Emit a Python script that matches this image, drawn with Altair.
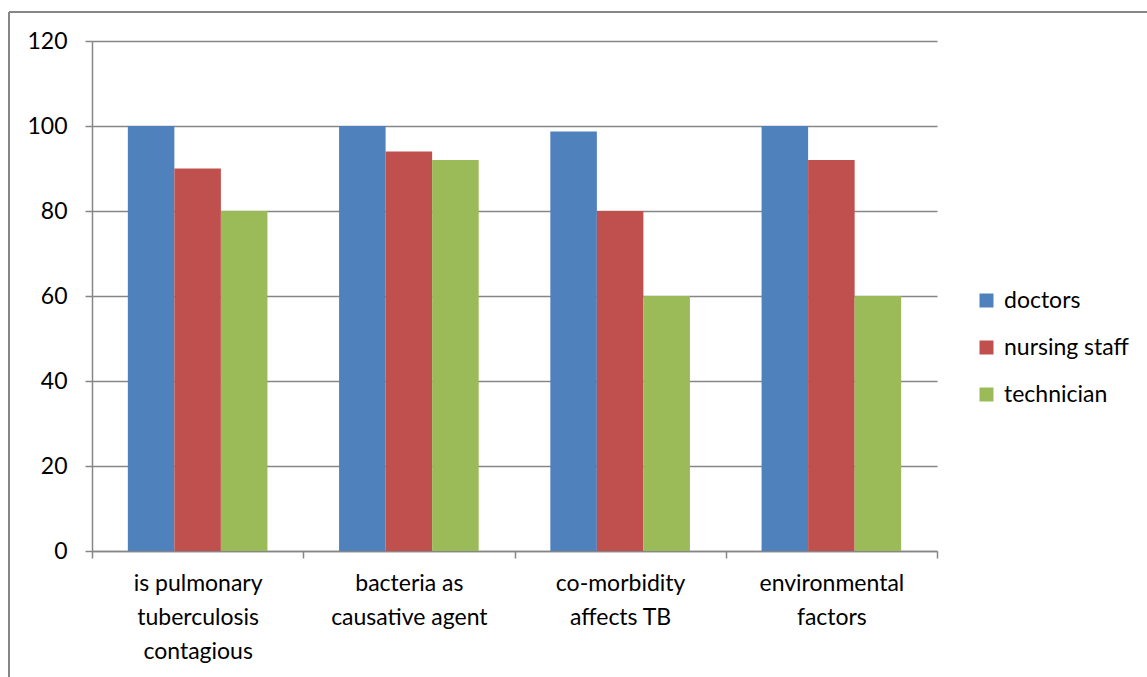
import altair as alt
import pandas as pd
import json

# Survey questions (x categories) and how each label wraps
questions = [
    "is pulmonary tuberculosis contagious",
    "bacteria as causative agent",
    "co-morbidity affects TB",
    "environmental factors",
]
question_lines = [
    ["is pulmonary", "tuberculosis", "contagious"],
    ["bacteria as", "causative agent"],
    ["co-morbidity", "affects TB"],
    ["environmental", "factors"],
]

# Respondent groups and their percentages per question
groups = ["doctors", "nursing staff", "technician"]
doctors = [100, 100, 98.7, 100]
nursing_staff = [90, 94, 80, 92]
technician = [80, 92, 60, 60]

colors = ["#4F81BD", "#C0504D", "#9BBB59"]
y_ticks = [0, 20, 40, 60, 80, 100, 120]

rows = []
for g, vals in zip(groups, [doctors, nursing_staff, technician]):
    for q, v in zip(questions, vals):
        rows.append({"question": q, "group": g, "value": v})
df = pd.DataFrame(rows)

label_map = json.dumps(dict(zip(questions, question_lines)))
FONT = "Lato"
FS = 23
GRID = "#868686"

bars = alt.Chart(df).mark_bar().encode(
    x=alt.X(
        "question:N",
        sort=questions,
        scale=alt.Scale(paddingInner=0, paddingOuter=0),
        axis=alt.Axis(
            title=None,
            labelAngle=0,
            labelExpr=f"{label_map}[datum.value]",
            labelFont=FONT,
            labelFontSize=FS,
            labelColor="#000000",
            labelLineHeight=34,
            labelBaseline="top",
            labelPadding=14,
            tickBand="extent",
            tickSize=7,
            tickColor=GRID,
            tickWidth=1.5,
            domainColor=GRID,
            domainWidth=1.5,
            grid=False,
        ),
    ),
    xOffset=alt.XOffset(
        "group:N",
        sort=groups,
        scale=alt.Scale(paddingOuter=0.77, paddingInner=0),
    ),
    y=alt.Y(
        "value:Q",
        scale=alt.Scale(domain=[0, 120], nice=False),
        axis=alt.Axis(
            title=None,
            values=y_ticks,
            labelFont=FONT,
            labelFontSize=FS,
            labelColor="#000000",
            labelPadding=18,
            tickSize=7,
            tickColor=GRID,
            tickWidth=1.5,
            domainColor=GRID,
            domainWidth=1.5,
            gridColor=GRID,
            gridWidth=1.5,
        ),
    ),
    color=alt.Color(
        "group:N",
        sort=groups,
        scale=alt.Scale(domain=groups, range=colors),
        legend=alt.Legend(
            title=None,
            orient="none",
            legendX=883,
            legendY=248,
            symbolType="square",
            symbolSize=196,
            symbolStrokeWidth=0,
            labelFont=FONT,
            labelFontSize=FS,
            labelColor="#000000",
            labelOffset=6,
            rowPadding=23,
        ),
    ),
)

# Outer frame of the figure (left and top edges)
frame_left = alt.Chart(df).mark_rule(color=GRID, strokeWidth=1.5).encode(
    x=alt.value(-83), y=alt.value(-29), y2=alt.value(640)
)
frame_top = alt.Chart(df).mark_rule(color=GRID, strokeWidth=1.5).encode(
    x=alt.value(-83), x2=alt.value(1060), y=alt.value(-29)
)

chart = (
    alt.layer(bars, frame_left, frame_top)
    .properties(
        width=845,
        height=510,
        padding={"left": 92, "top": 41, "right": 210, "bottom": 126},
        autosize=alt.AutoSizeParams(type="none"),
        background="white",
    )
    .configure_view(stroke=None)
)

chart.save("out.html", embed_options={"renderer": "svg", "actions": False})
